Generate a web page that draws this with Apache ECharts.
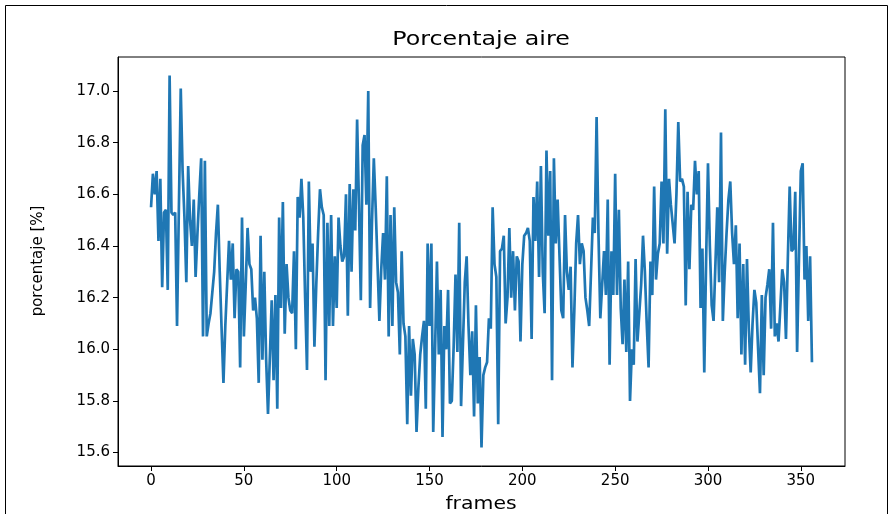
<!DOCTYPE html>
<html>
<head>
<meta charset="utf-8">
<script src="https://cdn.jsdelivr.net/npm/echarts@6/dist/echarts.min.js"></script>
<style>
html,body{margin:0;padding:0;background:#fff;}
#c{width:894px;height:514px;}
</style>
</head>
<body>
<div id="c"></div>
<script>
const titleText = "Porcentaje aire";
const xLabel = "frames";
const yLabel = "porcentaje [%]";
const xTicks = [0, 50, 100, 150, 200, 250, 300, 350];
const yTicks = [15.6, 15.8, 16.0, 16.2, 16.4, 16.6, 16.8, 17.0];
const porcentaje = [
16.55,16.68,16.60,16.69,16.42,16.66,16.24,16.53,16.54,16.23,
17.06,16.53,16.52,16.53,16.09,16.55,17.01,16.69,16.51,16.26,
16.71,16.50,16.40,16.58,16.28,16.45,16.60,16.74,16.05,16.73,
16.05,16.10,16.14,16.14,16.30,16.45,16.56,16.30,16.08,15.87,
16.09,16.09,16.42,16.27,16.41,16.12,16.31,16.30,15.93,16.51,
16.05,16.25,16.47,16.33,16.31,16.15,16.20,16.12,15.87,16.44,
15.96,16.30,15.96,15.75,15.75,16.19,15.88,16.21,15.77,16.51,
16.16,16.57,16.06,16.33,16.20,16.15,16.14,16.38,16.00,16.59,
16.51,16.66,16.51,16.20,15.92,16.65,16.30,16.41,16.01,16.25,
16.45,16.62,16.55,16.52,15.88,16.49,16.09,16.52,16.09,16.36,
16.16,16.51,16.40,16.34,16.36,16.60,16.13,16.64,16.30,16.62,
16.46,16.89,16.56,16.19,16.79,16.83,16.56,17.00,16.16,16.49,
16.74,16.55,16.33,16.11,16.31,16.45,16.27,16.67,16.05,16.52,
16.09,16.55,16.26,16.22,15.98,16.38,16.10,16.05,15.71,16.09,
15.82,16.04,15.98,15.68,15.85,15.98,16.05,16.11,15.77,16.41,
16.09,16.41,15.68,16.00,16.34,15.98,16.23,15.66,16.09,16.00,
16.23,15.79,15.80,16.01,16.29,15.99,16.49,15.78,16.02,16.26,
16.36,16.09,15.90,16.07,15.74,16.17,15.79,15.97,15.62,15.90,
15.93,15.95,16.12,16.08,16.55,16.33,16.28,15.71,16.38,16.39,
16.44,16.10,16.20,16.47,16.20,16.38,16.15,16.36,16.34,16.03,
16.33,16.44,16.45,16.47,16.42,16.04,16.59,16.42,16.65,16.28,
16.71,16.30,16.14,16.77,16.44,16.69,15.88,16.74,16.41,16.58,
16.58,16.15,16.12,16.52,16.30,16.23,16.32,15.93,16.15,16.41,
16.52,16.33,16.41,16.38,16.20,16.15,16.09,16.30,16.51,16.45,
16.90,16.45,16.12,16.25,16.38,16.21,16.58,15.94,16.38,16.21,
16.68,16.21,16.54,16.16,16.02,16.27,15.99,16.34,15.80,16.00,
15.94,16.35,16.03,16.03,16.25,16.44,16.30,16.10,15.93,16.34,
16.21,16.63,16.27,16.37,16.41,16.65,16.41,16.93,16.37,16.66,
16.56,16.56,16.41,16.60,16.88,16.65,16.66,16.63,16.17,16.61,
16.31,16.56,16.54,16.73,16.60,16.69,16.16,16.39,15.91,16.35,
16.72,16.40,16.17,16.11,16.11,16.55,16.26,16.84,16.11,16.30,
16.45,16.58,16.65,16.45,16.33,16.48,16.12,16.41,15.98,16.33,
15.94,16.35,16.08,15.91,16.10,16.23,16.18,16.00,15.83,16.21,
15.90,16.20,16.25,16.31,16.08,16.49,16.05,16.10,16.03,16.17,
16.31,16.26,16.04,16.35,16.63,16.38,16.39,16.61,15.99,16.35,
16.69,16.72,16.27,16.40,16.11,16.36,15.95
];

const seriesData = porcentaje.map((v, i) => [i, v]);
const n = porcentaje.length - 1;
const xMin = -0.05 * n, xMax = n * 1.05;
const yLo = Math.min(...porcentaje), yHi = Math.max(...porcentaje);
const yPad = (yHi - yLo) * 0.05;

const chart = echarts.init(document.getElementById('c'), null, {renderer: 'canvas'});
const font = 'DejaVu Sans';
chart.setOption({
  animation: false,
  backgroundColor: '#fff',
  grid: {left: 118, right: 49, top: 57, bottom: 48, show: true, borderColor: '#000', borderWidth: 1, backgroundColor: 'transparent'},
  xAxis: {
    type: 'value', min: xMin, max: xMax,
    axisLine: {show: true, onZero: false, lineStyle: {color: '#000', width: 1}},
    splitLine: {show: false},
    axisTick: {show: true, inside: false, length: 5, lineStyle: {color: '#000', width: 1}, customValues: xTicks},
    axisLabel: {customValues: xTicks, fontFamily: font, fontSize: 15, color: '#000', margin: 8,
      formatter: v => String(v)}
  },
  yAxis: {
    type: 'value', min: yLo - yPad, max: yHi + yPad,
    axisLine: {show: true, onZero: false, lineStyle: {color: '#000', width: 1}},
    splitLine: {show: false},
    axisTick: {show: true, inside: false, length: 5, lineStyle: {color: '#000', width: 1}, customValues: yTicks},
    axisLabel: {customValues: yTicks, fontFamily: font, fontSize: 15, color: '#000', margin: 8,
      formatter: v => v.toFixed(1)}
  },
  graphic: [
    {type: 'rect', shape: {x: 5.5, y: 5.5, width: 882, height: 530}, style: {fill: 'none', stroke: '#000', lineWidth: 1}, silent: true},
    {type: 'text', x: 481, y: 40, scaleX: 1.25, style: {text: titleText, font: '19px "DejaVu Sans"', fill: '#000', textAlign: 'center', textVerticalAlign: 'middle'}},
    {type: 'text', x: 481, y: 505, scaleX: 1.2, style: {text: xLabel, font: '17px "DejaVu Sans"', fill: '#000', textAlign: 'center', textVerticalAlign: 'middle'}},
    {type: 'text', x: 38, y: 261, rotation: Math.PI / 2, style: {text: yLabel, font: '15px "DejaVu Sans"', fill: '#000', textAlign: 'center', textVerticalAlign: 'middle'}}
  ],
  series: [{
    type: 'line', data: seriesData, showSymbol: false, symbol: 'none',
    lineStyle: {color: '#1f77b4', width: 2.7}, clip: true
  }]
});
</script>
</body>
</html>
